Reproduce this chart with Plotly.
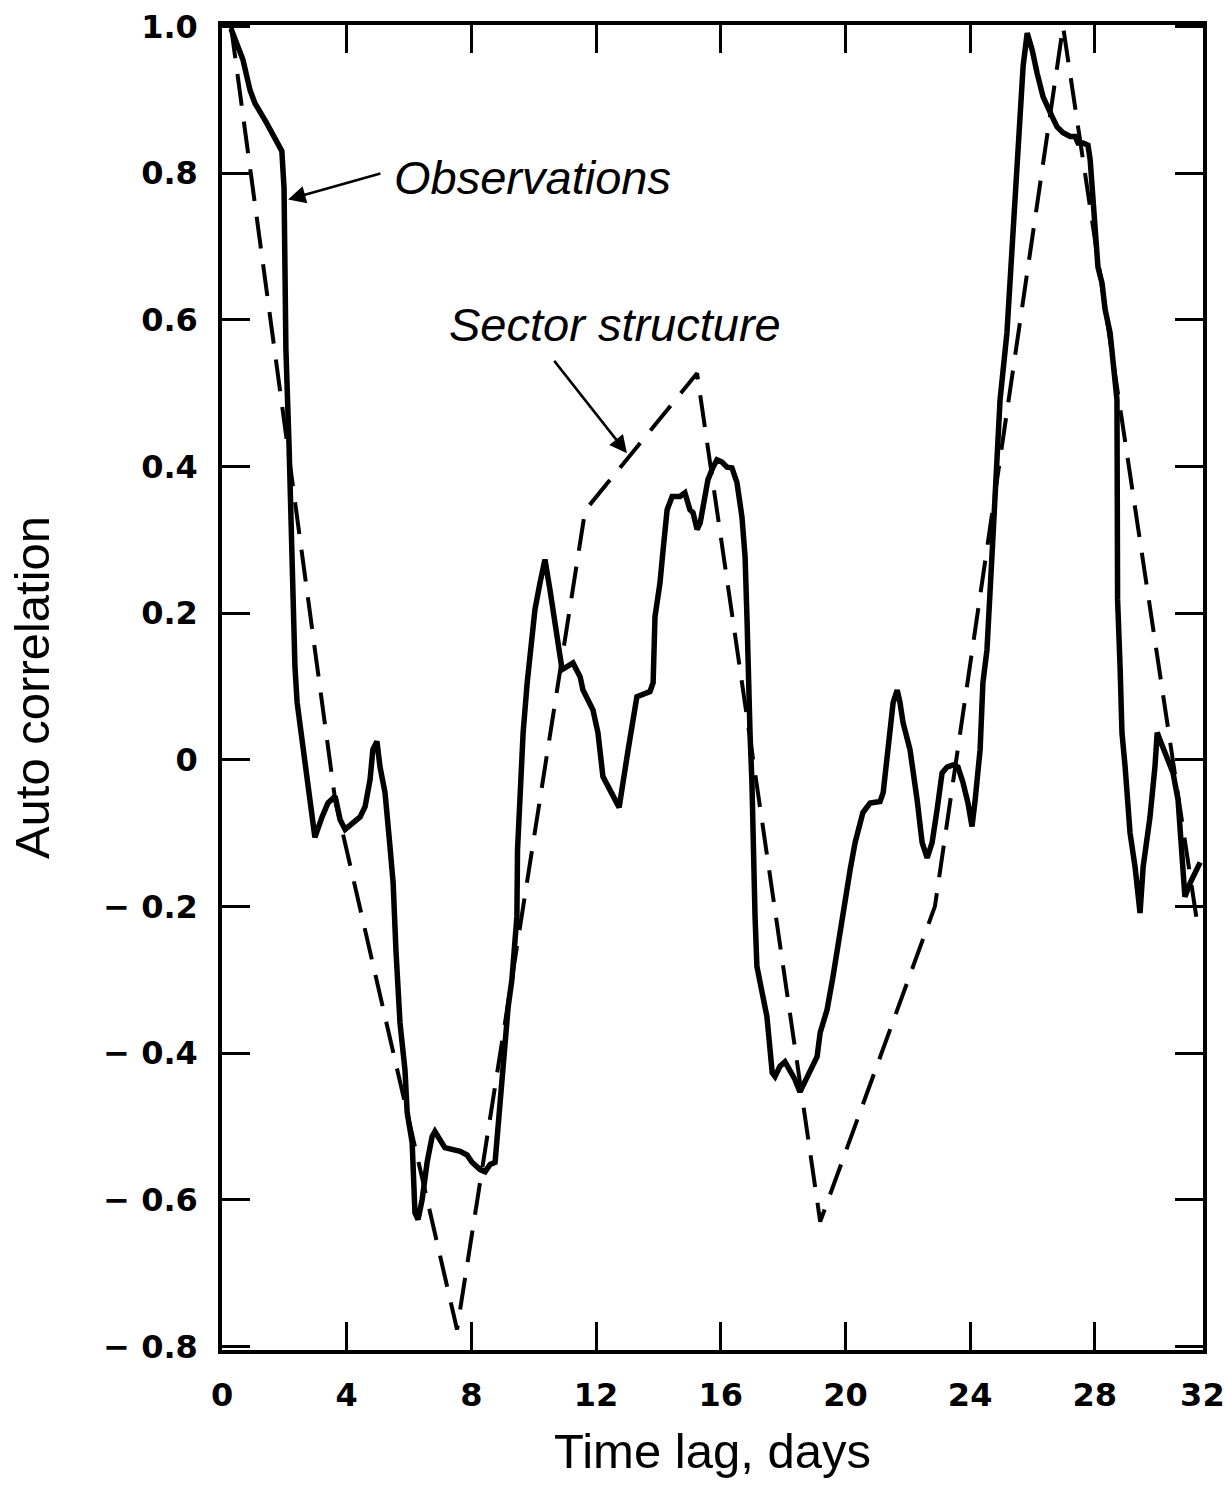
import plotly.graph_objects as go

# ---------------- data ----------------
lag_obs = [0.29, 0.67, 0.90, 1.06, 1.41, 1.76, 1.92, 1.99, 2.02, 2.05, 2.15, 2.25, 2.34, 2.41,
           2.57, 2.76, 2.98, 3.21, 3.40, 3.63, 3.79, 3.95, 4.20, 4.43, 4.59, 4.75, 4.84, 4.97,
           5.07, 5.23, 5.39, 5.49, 5.58, 5.71, 5.87, 5.94, 6.10, 6.13, 6.19, 6.29, 6.42, 6.58,
           6.74, 6.83, 6.99, 7.15, 7.64, 7.86, 8.02, 8.28, 8.44, 8.60, 8.76, 8.85, 9.02, 9.18,
           9.30, 9.46, 9.48, 9.56, 9.66, 9.79, 9.95, 10.04, 10.20, 10.36, 10.52, 10.68, 10.84,
           10.91, 11.07, 11.26, 11.49, 11.58, 11.90, 12.06, 12.22, 12.54, 12.74, 13.03, 13.31,
           13.73, 13.83, 13.89, 14.05, 14.15, 14.28, 14.44, 14.69, 14.85, 15.01, 15.11, 15.24,
           15.34, 15.50, 15.59, 15.75, 15.88, 16.04, 16.20, 16.36, 16.52, 16.68, 16.78, 16.84,
           16.88, 16.94, 17.00, 17.04, 17.10, 17.16, 17.36, 17.48, 17.58, 17.65, 17.74, 17.90,
           18.06, 18.22, 18.38, 18.54, 18.70, 18.86, 19.09, 19.19, 19.41, 19.60, 19.76, 19.92,
           20.15, 20.31, 20.56, 20.79, 21.11, 21.21, 21.33, 21.43, 21.53, 21.66, 21.75, 21.85,
           22.07, 22.30, 22.46, 22.62, 22.78, 22.94, 23.10, 23.26, 23.45, 23.61, 23.77, 23.93,
           24.06, 24.16, 24.32, 24.41, 24.54, 24.74, 24.96, 25.18, 25.38, 25.60, 25.70, 25.83,
           25.99, 26.15, 26.34, 26.63, 26.79, 26.98, 27.21, 27.37, 27.46, 27.62, 27.78, 27.85,
           27.94, 28.01, 28.10, 28.23, 28.33, 28.49, 28.59, 28.71, 28.72, 28.73, 28.81, 28.87,
           28.97, 29.13, 29.29, 29.39, 29.45, 29.55, 29.77, 29.93, 30.00, 30.09, 30.32, 30.51,
           30.67, 30.80, 30.89, 31.06, 31.22, 31.38]
acf_obs = [0.997, 0.955, 0.913, 0.895, 0.870, 0.845, 0.830, 0.780, 0.690, 0.560, 0.430, 0.250,
           0.127, 0.078, 0.027, -0.037, -0.106, -0.078, -0.059, -0.050, -0.082, -0.095, -0.086,
           -0.078, -0.064, -0.027, 0.014, 0.025, -0.010, -0.045, -0.119, -0.168, -0.260, -0.359,
           -0.423, -0.481, -0.522, -0.555, -0.618, -0.627, -0.600, -0.549, -0.514, -0.507,
           -0.518, -0.529, -0.534, -0.539, -0.549, -0.559, -0.562, -0.552, -0.549, -0.504,
           -0.413, -0.337, -0.300, -0.214, -0.123, -0.031, 0.037, 0.105, 0.164, 0.205, 0.241,
           0.273, 0.232, 0.187, 0.146, 0.123, 0.127, 0.132, 0.113, 0.095, 0.068, 0.037, -0.023,
           -0.050, -0.065, 0.014, 0.086, 0.093, 0.105, 0.195, 0.241, 0.286, 0.341, 0.359, 0.359,
           0.364, 0.341, 0.337, 0.314, 0.323, 0.359, 0.382, 0.399, 0.409, 0.406, 0.399, 0.398,
           0.378, 0.331, 0.277, 0.195, 0.105, 0.035, -0.031, -0.123, -0.214, -0.282, -0.327,
           -0.350, -0.395, -0.427, -0.432, -0.418, -0.412, -0.423, -0.436, -0.453, -0.440,
           -0.427, -0.405, -0.372, -0.341, -0.296, -0.250, -0.205, -0.150, -0.113, -0.072,
           -0.059, -0.057, -0.045, 0.000, 0.041, 0.078, 0.095, 0.078, 0.050, 0.014, -0.055,
           -0.113, -0.134, -0.113, -0.068, -0.018, -0.010, -0.007, -0.010, -0.031, -0.059,
           -0.091, -0.055, 0.014, 0.105, 0.150, 0.310, 0.491, 0.582, 0.718, 0.855, 0.946, 0.991,
           0.968, 0.936, 0.904, 0.877, 0.863, 0.855, 0.850, 0.850, 0.841, 0.841, 0.838, 0.818,
           0.763, 0.718, 0.672, 0.650, 0.614, 0.582, 0.536, 0.491, 0.354, 0.218, 0.127, 0.037,
           -0.009, -0.100, -0.146, -0.191, -0.209, -0.146, -0.078, -0.009, 0.037, 0.027, 0.000,
           -0.018, -0.055, -0.146, -0.187, -0.168, -0.154, -0.140]

lag_sector = [0.29, 3.63, 7.54, 11.65, 15.24, 19.19, 22.87, 26.98, 31.31]
acf_sector = [1.0, -0.055, -0.777, 0.340, 0.527, -0.630, -0.200, 1.0, -0.230]

x_tickvals = [0, 4, 8, 12, 16, 20, 24, 28, 31.45]
x_ticktext = ["0", "4", "8", "12", "16", "20", "24", "28", "32"]
y_tickvals = [1.0, 0.8, 0.6, 0.4, 0.2, 0.0, -0.2, -0.4, -0.6, -0.8]
y_ticktext = ["1.0", "0.8", "0.6", "0.4", "0.2", "0",
              "\u2212 0.2", "\u2212 0.4", "\u2212 0.6", "\u2212 0.8"]

label_obs = "Observations"
label_sector = "Sector structure"
x_title = "Time lag, days"
y_title = "Auto correlation"

# ---------------- figure ----------------
fig = go.Figure()
fig.add_trace(go.Scatter(x=lag_sector, y=acf_sector, mode="lines", name=label_sector,
                         line=dict(color="black", width=4, dash="32px,16px")))
fig.add_trace(go.Scatter(x=lag_obs, y=acf_obs, mode="lines", name=label_obs,
                         line=dict(color="black", width=5.5)))

tick_font = dict(family="DejaVu Sans", size=32, color="black", weight="bold")
title_font = dict(family="Liberation Sans", size=49, color="black")
ann_font = dict(family="Liberation Sans", size=47, color="black", style="italic")

fig.update_layout(
    width=1225, height=1488,
    margin=dict(l=222, r=22, t=25, b=138),
    paper_bgcolor="white", plot_bgcolor="white",
    showlegend=False,
    xaxis=dict(range=[0, 31.47], tickvals=x_tickvals, ticktext=x_ticktext,
               ticks="inside", ticklen=28, tickwidth=2.5, tickcolor="black",
               showline=True, linecolor="black", linewidth=3.5, mirror="ticks",
               showgrid=False, zeroline=False, tickfont=tick_font,
               ticklabelstandoff=14, automargin=False,
               title=dict(text=x_title, font=title_font, standoff=22)),
    yaxis=dict(range=[-0.805, 1.002], tickvals=y_tickvals, ticktext=y_ticktext,
               ticks="inside", ticklen=28, tickwidth=2.5, tickcolor="black",
               showline=True, linecolor="black", linewidth=3.5, mirror="ticks",
               showgrid=False, zeroline=False, tickfont=tick_font,
               ticklabelstandoff=14, automargin=False,
               title=dict(text=y_title, font=title_font, standoff=39)),
)

# labels
fig.add_annotation(x=5.45, y=0.794, xref="x", yref="y", text=label_obs, showarrow=False,
                   xanchor="left", yanchor="middle", font=ann_font)
fig.add_annotation(x=7.22, y=0.594, xref="x", yref="y", text=label_sector, showarrow=False,
                   xanchor="left", yanchor="middle", font=ann_font)
# arrows
fig.add_annotation(x=2.12, y=0.764, ax=5.13, ay=0.800, xref="x", yref="y", axref="x", ayref="y",
                   text="", showarrow=True, arrowhead=2, arrowsize=1.4, arrowwidth=2.5,
                   arrowcolor="black")
fig.add_annotation(x=12.99, y=0.418, ax=10.62, ay=0.546, xref="x", yref="y", axref="x", ayref="y",
                   text="", showarrow=True, arrowhead=2, arrowsize=1.4, arrowwidth=2.5,
                   arrowcolor="black")

fig.write_html("out.html")
